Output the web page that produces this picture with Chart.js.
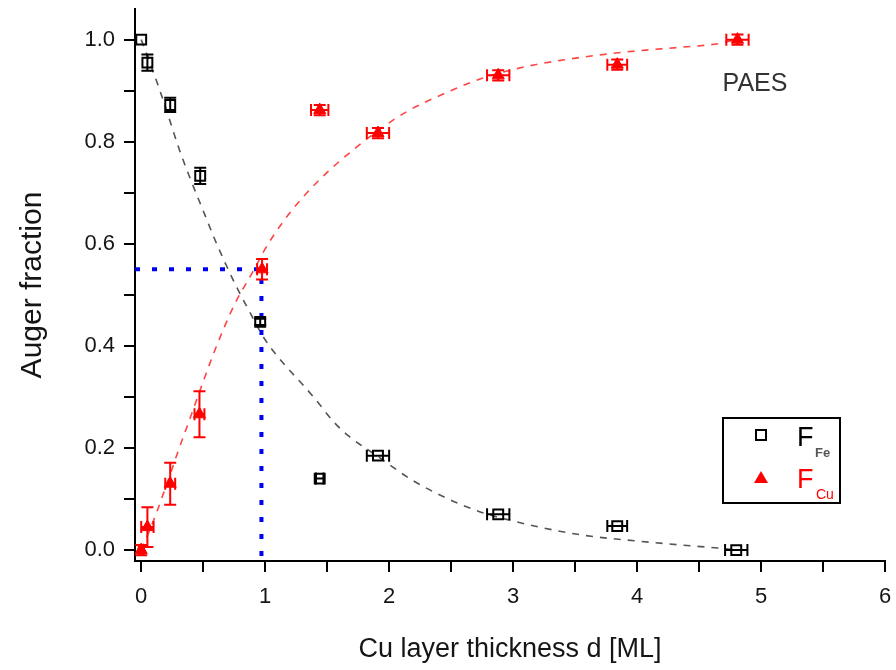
<!DOCTYPE html>
<html>
<head>
<meta charset="utf-8">
<script src="https://cdn.jsdelivr.net/npm/chart.js@4.4.0/dist/chart.umd.min.js"></script>
<style>
  html, body { margin: 0; padding: 0; background: #fff; }
  canvas { display: block; }
</style>
</head>
<body>
<canvas id="augerChart" width="896" height="670"></canvas>
<script>
const feThickness = [0, 0.05, 0.234, 0.476, 0.96, 1.44, 1.91, 2.88, 3.84, 4.8];
const feFraction = [1.0, 0.955, 0.872, 0.733, 0.447, 0.14, 0.185, 0.07, 0.047, 0.0];
const feErrX = [0, 0, 0, 0, 0, 0.03, 0.09, 0.09, 0.08, 0.09];
const feErrY = [0, 0.016, 0.014, 0.016, 0.006, 0, 0, 0, 0, 0];

const cuThickness = [0, 0.05, 0.234, 0.47, 0.975, 1.44, 1.91, 2.88, 3.84, 4.81];
const cuFraction = [0.0, 0.045, 0.13, 0.266, 0.55, 0.862, 0.817, 0.93, 0.951, 1.0];
const cuErrX = [0.02, 0.05, 0.04, 0.04, 0.04, 0.07, 0.09, 0.09, 0.08, 0.09];
const cuErrY = [0.01, 0.039, 0.041, 0.045, 0.02, 0.01, 0.01, 0.01, 0.01, 0.01];

// dashed fit curves
const feFitX = [0, 0.1, 0.2, 0.3, 0.4, 0.5, 0.6, 0.75, 0.85, 1.0, 1.15, 1.3, 1.4, 1.55, 1.67, 1.9, 2.18, 2.47, 2.77, 3.0, 3.25, 3.57, 4.03, 4.35, 4.65, 4.8];
const feFitY = [1.0, 0.935, 0.865, 0.79, 0.725, 0.665, 0.605, 0.525, 0.478, 0.412, 0.365, 0.325, 0.297, 0.252, 0.224, 0.185, 0.138, 0.101, 0.072, 0.057, 0.043, 0.029, 0.017, 0.01, 0.004, 0.0];
const cuFitX = [0, 0.1, 0.2, 0.3, 0.4, 0.5, 0.6, 0.75, 0.9, 1.0, 1.15, 1.3, 1.5, 1.7, 1.9, 2.15, 2.47, 2.76, 3.1, 3.4, 3.7, 4.0, 4.35, 4.65, 4.8];
const cuFitY = [0.0, 0.058, 0.125, 0.195, 0.262, 0.33, 0.395, 0.48, 0.545, 0.59, 0.645, 0.69, 0.74, 0.782, 0.82, 0.86, 0.897, 0.925, 0.947, 0.96, 0.97, 0.978, 0.985, 0.992, 1.0];

// blue guide at the crossing
const crossX = 0.97;
const crossY = 0.55;

const xMin = -0.05, xMax = 6;
const yMin = -0.0214, yMax = 1.06;
const xTickVals = [0, 0.5, 1, 1.5, 2, 2.5, 3, 3.5, 4, 4.5, 5, 5.5, 6];
const yTickVals = [0, 0.1, 0.2, 0.3, 0.4, 0.5, 0.6, 0.7, 0.8, 0.9, 1.0];

const FONT = "'Liberation Sans', Arial, sans-serif";
const TEXT = '#151515';

function toPoints(xs, ys) {
    return xs.map((x, i) => ({ x: x, y: ys[i] }));
}

// error bars for datasets that carry errX / errY
const errorBars = {
    id: 'errorBars',
    afterDatasetsDraw(chart) {
        const ctx = chart.ctx;
        const xs = chart.scales.x, ys = chart.scales.y;
        chart.data.datasets.forEach(ds => {
            if (!ds.errX) return;
            ctx.save();
            ctx.strokeStyle = ds.borderColor;
            ctx.lineWidth = 2;
            ds.data.forEach((p, i) => {
                const px = xs.getPixelForValue(p.x);
                const py = ys.getPixelForValue(p.y);
                const ex = ds.errX[i], ey = ds.errY[i];
                ctx.beginPath();
                if (ey > 0) {
                    const y1 = ys.getPixelForValue(p.y + ey);
                    const y2 = ys.getPixelForValue(p.y - ey);
                    ctx.moveTo(px, y1); ctx.lineTo(px, y2);
                    ctx.moveTo(px - 6, y1); ctx.lineTo(px + 6, y1);
                    ctx.moveTo(px - 6, y2); ctx.lineTo(px + 6, y2);
                }
                if (ex > 0) {
                    const x1 = xs.getPixelForValue(p.x - ex);
                    const x2 = xs.getPixelForValue(p.x + ex);
                    ctx.moveTo(x1, py); ctx.lineTo(x2, py);
                    ctx.moveTo(x1, py - 6); ctx.lineTo(x1, py + 6);
                    ctx.moveTo(x2, py - 6); ctx.lineTo(x2, py + 6);
                }
                ctx.stroke();
            });
            ctx.restore();
        });
    }
};

// PAES note and the boxed legend with subscripts
const annotations = {
    id: 'annotations',
    afterDraw(chart) {
        const ctx = chart.ctx;
        const xs = chart.scales.x, ys = chart.scales.y;
        const area = chart.chartArea;
        ctx.save();
        ctx.fillStyle = '#333';
        ctx.font = '25px ' + FONT;
        ctx.textAlign = 'left';
        ctx.textBaseline = 'alphabetic';
        ctx.fillText('PAES', xs.getPixelForValue(4.69), ys.getPixelForValue(0.899));

        const w = 117, h = 85;
        const bx = area.right - 45 - w;
        const by = area.bottom - 58 - h;
        ctx.strokeStyle = '#000';
        ctx.lineWidth = 2;
        ctx.strokeRect(bx, by, w, h);

        ctx.lineWidth = 2;
        ctx.strokeRect(bx + 33, by + 12, 10, 10);
        ctx.fillStyle = '#000';
        ctx.font = '27px ' + FONT;
        ctx.fillText('F', bx + 74, by + 28);
        ctx.fillStyle = '#555';
        ctx.font = 'bold 13px ' + FONT;
        ctx.fillText('Fe', bx + 92, by + 39);

        ctx.fillStyle = '#f00';
        ctx.beginPath();
        ctx.moveTo(bx + 38, by + 53);
        ctx.lineTo(bx + 45, by + 65);
        ctx.lineTo(bx + 31, by + 65);
        ctx.closePath();
        ctx.fill();
        ctx.font = '27px ' + FONT;
        ctx.fillText('F', bx + 74, by + 70);
        ctx.font = '14px ' + FONT;
        ctx.fillText('Cu', bx + 93, by + 81);
        ctx.restore();
    }
};

const ctx = document.getElementById('augerChart').getContext('2d');
const augerChart = new Chart(ctx, {
    type: 'scatter',
    data: {
        datasets: [{
            label: 'F_Fe',
            data: toPoints(feThickness, feFraction),
            errX: feErrX,
            errY: feErrY,
            pointStyle: 'rect',
            pointRadius: 7,
            backgroundColor: 'rgba(255,255,255,0)',
            borderColor: '#000',
            borderWidth: 2
        }, {
            label: 'F_Cu',
            data: toPoints(cuThickness, cuFraction),
            errX: cuErrX,
            errY: cuErrY,
            pointStyle: 'triangle',
            pointRadius: 7,
            backgroundColor: '#f00',
            borderColor: '#f00',
            borderWidth: 1
        }, {
            label: 'guide',
            data: [{ x: xMin, y: crossY }, { x: crossX, y: crossY }, { x: crossX, y: yMin }],
            showLine: true,
            pointRadius: 0,
            borderColor: '#0000ee',
            borderWidth: 4,
            borderDash: [5, 12]
        }, {
            label: 'Fe fit',
            data: toPoints(feFitX, feFitY),
            showLine: true,
            pointRadius: 0,
            borderColor: '#555',
            borderWidth: 1.6,
            borderDash: [7, 7],
            cubicInterpolationMode: 'monotone'
        }, {
            label: 'Cu fit',
            data: toPoints(cuFitX, cuFitY),
            showLine: true,
            pointRadius: 0,
            borderColor: '#ff4444',
            borderWidth: 1.6,
            borderDash: [7, 7],
            cubicInterpolationMode: 'monotone'
        }]
    },
    options: {
        responsive: false,
        animation: false,
        layout: {
            padding: { top: 5, right: 11, left: 0, bottom: 0 }
        },
        plugins: {
            legend: { display: false },
            tooltip: { enabled: false }
        },
        scales: {
            x: {
                type: 'linear',
                min: xMin,
                max: xMax,
                afterFit: (s) => { s.height = 109; s.paddingLeft = 0; s.paddingRight = 0; },
                afterBuildTicks: (s) => { s.ticks = xTickVals.map(v => ({ value: v })); },
                ticks: {
                    autoSkip: false,
                    maxRotation: 0,
                    padding: 12,
                    color: TEXT,
                    font: { family: FONT, size: 22 },
                    callback: (v) => Number.isInteger(v) ? String(v) : ''
                },
                grid: {
                    drawOnChartArea: false,
                    drawTicks: true,
                    tickLength: 11,
                    color: '#000',
                    lineWidth: 2
                },
                border: { display: true, color: '#000', width: 2 },
                title: {
                    display: true,
                    text: 'Cu layer thickness d [ML]',
                    color: TEXT,
                    font: { family: FONT, size: 27 },
                    padding: { top: 0, bottom: 4 }
                }
            },
            y: {
                type: 'linear',
                min: yMin,
                max: yMax,
                afterFit: (s) => { s.width = 135; s.paddingTop = 0; s.paddingBottom = 0; },
                afterBuildTicks: (s) => { s.ticks = yTickVals.map(v => ({ value: v })); },
                ticks: {
                    autoSkip: false,
                    padding: 9,
                    color: TEXT,
                    font: { family: FONT, size: 22 },
                    callback: (v) => Math.round(v * 10) % 2 === 0 ? v.toFixed(1) : ''
                },
                grid: {
                    drawOnChartArea: false,
                    drawTicks: true,
                    tickLength: 11,
                    color: '#000',
                    lineWidth: 2
                },
                border: { display: true, color: '#000', width: 2 },
                title: {
                    display: true,
                    text: 'Auger fraction',
                    color: TEXT,
                    font: { family: FONT, size: 30 },
                    padding: { top: 15, bottom: 0 }
                }
            }
        }
    },
    plugins: [errorBars, annotations]
});
</script>
</body>
</html>
